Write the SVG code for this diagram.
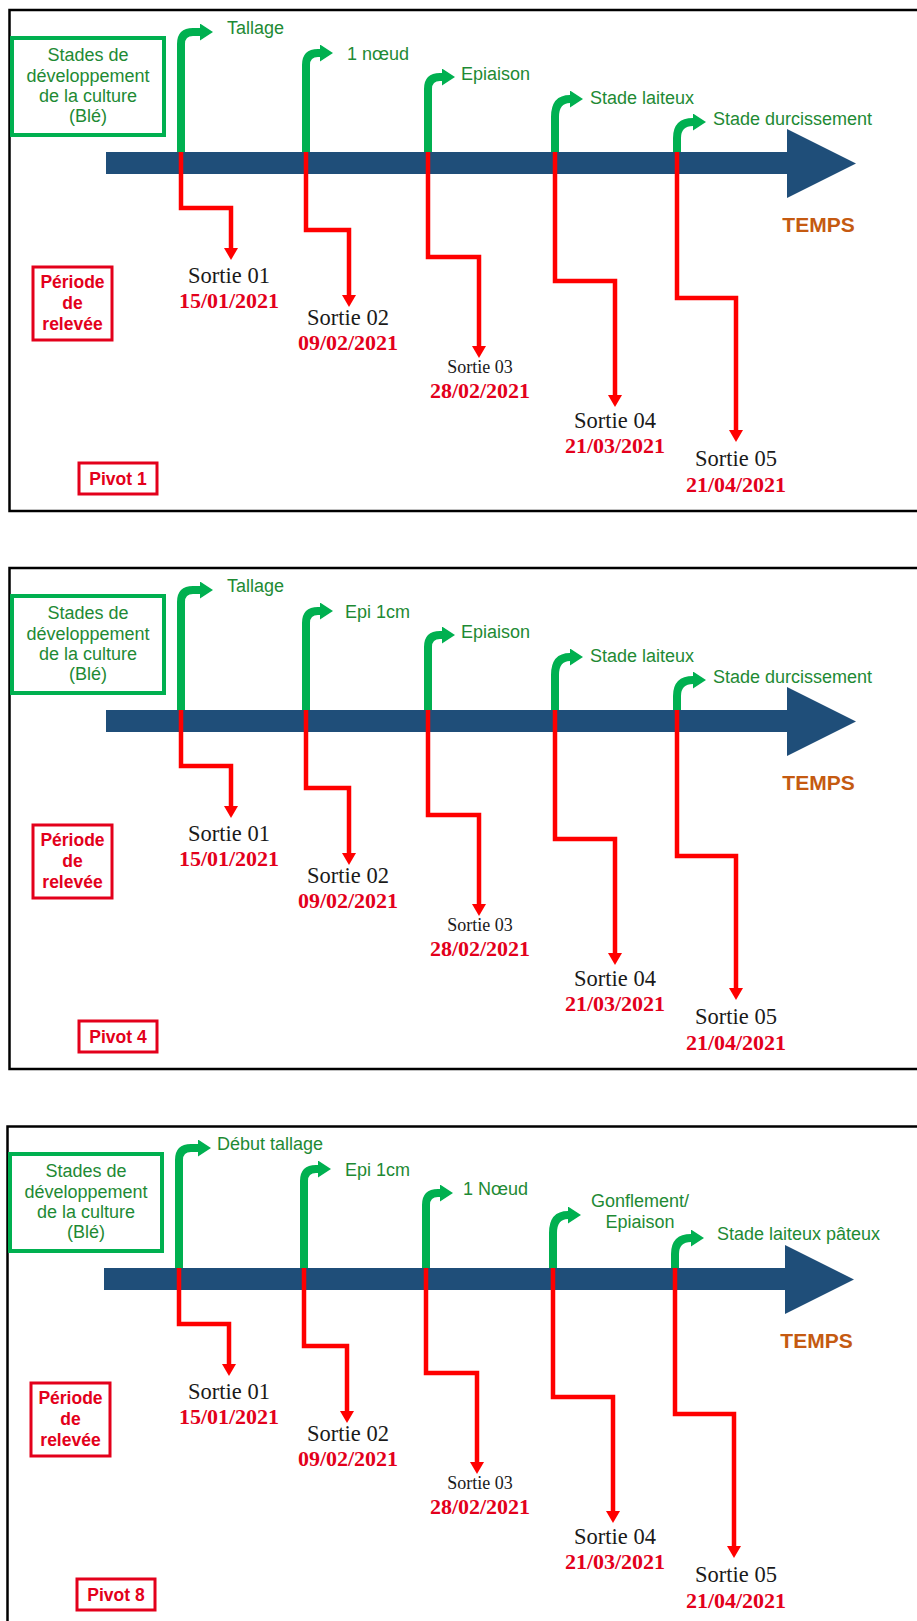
<svg xmlns="http://www.w3.org/2000/svg" width="917" height="1621" viewBox="0 0 917 1621">
<style>
.bg{fill:#fff}
.frame{fill:none;stroke:#000;stroke-width:2.5}
.bar{fill:#1F4E79}
.gbox{fill:#fff;stroke:#00B050;stroke-width:4}
.rbox{fill:#fff;stroke:#E3001B;stroke-width:3}
.gline{fill:none;stroke:#00B050;stroke-width:8}
.rline{fill:none;stroke:#FF0000;stroke-width:4.5;stroke-linejoin:miter}
.gtxt{font-family:'Liberation Sans',Arial,sans-serif;font-size:18px;fill:#1E8A34}
.btxt{font-family:'Liberation Sans',Arial,sans-serif;font-size:18px;fill:#1E8A34;text-anchor:middle}
.rtxt{font-family:'Liberation Sans',Arial,sans-serif;font-size:17.5px;font-weight:bold;fill:#E3001B;text-anchor:middle}
.sortie{font-family:'Liberation Serif','Times New Roman',serif;font-size:22.5px;fill:#1a1a1a;text-anchor:middle}
.sortie.small{font-size:18px}
.date{font-family:'Liberation Serif','Times New Roman',serif;font-size:22px;font-weight:bold;fill:#E3001B;text-anchor:middle}
.temps{font-family:'Liberation Sans',Arial,sans-serif;font-size:21px;font-weight:bold;fill:#C55A11;text-anchor:middle}
</style>
<defs>
<marker id="rarrow" markerUnits="userSpaceOnUse" viewBox="0 0 12 14" refX="0" refY="7" markerWidth="12" markerHeight="14" orient="auto">
<path d="M0,0 L12,7 L0,14 Z" fill="#FF0000"/>
</marker>
<marker id="garrow" markerUnits="userSpaceOnUse" viewBox="0 0 13 17" refX="0" refY="8.5" markerWidth="13" markerHeight="17" orient="auto">
<path d="M0,0 L13,8.5 L0,17 Z" fill="#00B050"/>
</marker>
</defs>
<rect class="bg" x="0" y="0" width="917" height="1621"/>

<!-- ============ PANEL 1 ============ -->
<g id="panel1">
<rect id="p1-frame" class="frame" x="9.5" y="10" width="930" height="501"/>
<g id="p1-axis"><path class="bar" d="M106 152 H787 V129 L856 163.5 L787 198 V174 H106 Z"/><text class="temps" x="818.5" y="232">TEMPS</text></g>
<g id="p1-stages"><rect class="gbox" x="12" y="38" width="152" height="97"/>
<text class="btxt" x="88" y="61">Stades de</text><text class="btxt" x="88" y="82">développement</text><text class="btxt" x="88" y="102">de la culture</text><text class="btxt" x="88" y="122">(Blé)</text></g>
<g id="p1-periode"><rect class="rbox" x="33" y="267" width="79" height="73"/>
<text class="rtxt" x="72.5" y="288">Période</text><text class="rtxt" x="72.5" y="309">de</text><text class="rtxt" x="72.5" y="330">relevée</text></g>
<g id="p1-pivot"><rect class="rbox" x="79" y="463" width="78" height="31"/><text class="rtxt" x="118" y="485">Pivot 1</text></g>
<g id="p1-connectors">
<path class="gline" d="M181 152 V44 Q181 32 193 32 H200" marker-end="url(#garrow)"/>
<path class="gline" d="M306 152 V65 Q306 53 318 53 H320" marker-end="url(#garrow)"/>
<path class="gline" d="M428 152 V89 Q428 77 440 77 H442" marker-end="url(#garrow)"/>
<path class="gline" d="M555 152 V117 Q555 99 570 99" marker-end="url(#garrow)"/>
<path class="gline" d="M677 152 V138 Q677 122 693 122" marker-end="url(#garrow)"/>
<path class="rline" d="M181 152 V208 H231 V248" marker-end="url(#rarrow)"/>
<path class="rline" d="M306 152 V230 H349 V295" marker-end="url(#rarrow)"/>
<path class="rline" d="M428 152 V257 H479 V346" marker-end="url(#rarrow)"/>
<path class="rline" d="M555 152 V281 H615 V395" marker-end="url(#rarrow)"/>
<path class="rline" d="M677 152 V298 H736 V430" marker-end="url(#rarrow)"/>
</g>
<g id="p1-st1"><text class="gtxt" x="227" y="34">Tallage</text></g>
<g id="p1-st2"><text class="gtxt" x="347" y="60">1 nœud</text></g>
<g id="p1-st3"><text class="gtxt" x="461" y="80">Epiaison</text></g>
<g id="p1-st4"><text class="gtxt" x="590" y="104">Stade laiteux</text></g>
<g id="p1-st5"><text class="gtxt" x="713" y="125">Stade durcissement</text></g>
<g id="p1-s1"><text class="sortie" x="229" y="283">Sortie 01</text><text class="date" x="229" y="308">15/01/2021</text></g>
<g id="p1-s2"><text class="sortie" x="348" y="325">Sortie 02</text><text class="date" x="348" y="350">09/02/2021</text></g>
<g id="p1-s3"><text class="sortie small" x="480" y="373">Sortie 03</text><text class="date" x="480" y="398">28/02/2021</text></g>
<g id="p1-s4"><text class="sortie" x="615" y="428">Sortie 04</text><text class="date" x="615" y="453">21/03/2021</text></g>
<g id="p1-s5"><text class="sortie" x="736" y="466">Sortie 05</text><text class="date" x="736" y="492">21/04/2021</text></g>
</g>

<!-- ============ PANEL 2 ============ -->
<g id="panel2" transform="translate(0,558)">
<rect id="p2-frame" class="frame" x="9.5" y="10" width="930" height="501"/>
<g id="p2-axis"><path class="bar" d="M106 152 H787 V129 L856 163.5 L787 198 V174 H106 Z"/><text class="temps" x="818.5" y="232">TEMPS</text></g>
<g id="p2-stages"><rect class="gbox" x="12" y="38" width="152" height="97"/>
<text class="btxt" x="88" y="61">Stades de</text><text class="btxt" x="88" y="82">développement</text><text class="btxt" x="88" y="102">de la culture</text><text class="btxt" x="88" y="122">(Blé)</text></g>
<g id="p2-periode"><rect class="rbox" x="33" y="267" width="79" height="73"/>
<text class="rtxt" x="72.5" y="288">Période</text><text class="rtxt" x="72.5" y="309">de</text><text class="rtxt" x="72.5" y="330">relevée</text></g>
<g id="p2-pivot"><rect class="rbox" x="79" y="463" width="78" height="31"/><text class="rtxt" x="118" y="485">Pivot 4</text></g>
<g id="p2-connectors">
<path class="gline" d="M181 152 V44 Q181 32 193 32 H200" marker-end="url(#garrow)"/>
<path class="gline" d="M306 152 V65 Q306 53 318 53 H320" marker-end="url(#garrow)"/>
<path class="gline" d="M428 152 V89 Q428 77 440 77 H442" marker-end="url(#garrow)"/>
<path class="gline" d="M555 152 V117 Q555 99 570 99" marker-end="url(#garrow)"/>
<path class="gline" d="M677 152 V138 Q677 122 693 122" marker-end="url(#garrow)"/>
<path class="rline" d="M181 152 V208 H231 V248" marker-end="url(#rarrow)"/>
<path class="rline" d="M306 152 V230 H349 V295" marker-end="url(#rarrow)"/>
<path class="rline" d="M428 152 V257 H479 V346" marker-end="url(#rarrow)"/>
<path class="rline" d="M555 152 V281 H615 V395" marker-end="url(#rarrow)"/>
<path class="rline" d="M677 152 V298 H736 V430" marker-end="url(#rarrow)"/>
</g>
<g id="p2-st1"><text class="gtxt" x="227" y="34">Tallage</text></g>
<g id="p2-st2"><text class="gtxt" x="345" y="60">Epi 1cm</text></g>
<g id="p2-st3"><text class="gtxt" x="461" y="80">Epiaison</text></g>
<g id="p2-st4"><text class="gtxt" x="590" y="104">Stade laiteux</text></g>
<g id="p2-st5"><text class="gtxt" x="713" y="125">Stade durcissement</text></g>
<g id="p2-s1"><text class="sortie" x="229" y="283">Sortie 01</text><text class="date" x="229" y="308">15/01/2021</text></g>
<g id="p2-s2"><text class="sortie" x="348" y="325">Sortie 02</text><text class="date" x="348" y="350">09/02/2021</text></g>
<g id="p2-s3"><text class="sortie small" x="480" y="373">Sortie 03</text><text class="date" x="480" y="398">28/02/2021</text></g>
<g id="p2-s4"><text class="sortie" x="615" y="428">Sortie 04</text><text class="date" x="615" y="453">21/03/2021</text></g>
<g id="p2-s5"><text class="sortie" x="736" y="466">Sortie 05</text><text class="date" x="736" y="492">21/04/2021</text></g>
</g>

<!-- ============ PANEL 3 ============ -->
<g id="panel3" transform="translate(-2,1116)">
<rect id="p3-frame" class="frame" x="9.5" y="10.5" width="930" height="520"/>
<g id="p3-axis"><path class="bar" d="M106 152 H787 V129 L856 163.5 L787 198 V174 H106 Z"/><text class="temps" x="818.5" y="232">TEMPS</text></g>
<g id="p3-stages"><rect class="gbox" x="12" y="38" width="152" height="97"/>
<text class="btxt" x="88" y="61">Stades de</text><text class="btxt" x="88" y="82">développement</text><text class="btxt" x="88" y="102">de la culture</text><text class="btxt" x="88" y="122">(Blé)</text></g>
<g id="p3-periode"><rect class="rbox" x="33" y="267" width="79" height="73"/>
<text class="rtxt" x="72.5" y="288">Période</text><text class="rtxt" x="72.5" y="309">de</text><text class="rtxt" x="72.5" y="330">relevée</text></g>
<g id="p3-pivot"><rect class="rbox" x="79" y="463" width="78" height="31"/><text class="rtxt" x="118" y="485">Pivot 8</text></g>
<g id="p3-connectors">
<path class="gline" d="M181 152 V44 Q181 32 193 32 H200" marker-end="url(#garrow)"/>
<path class="gline" d="M306 152 V65 Q306 53 318 53 H320" marker-end="url(#garrow)"/>
<path class="gline" d="M428 152 V89 Q428 77 440 77 H442" marker-end="url(#garrow)"/>
<path class="gline" d="M555 152 V117 Q555 99 570 99" marker-end="url(#garrow)"/>
<path class="gline" d="M677 152 V138 Q677 122 693 122" marker-end="url(#garrow)"/>
<path class="rline" d="M181 152 V208 H231 V248" marker-end="url(#rarrow)"/>
<path class="rline" d="M306 152 V230 H349 V295" marker-end="url(#rarrow)"/>
<path class="rline" d="M428 152 V257 H479 V346" marker-end="url(#rarrow)"/>
<path class="rline" d="M555 152 V281 H615 V395" marker-end="url(#rarrow)"/>
<path class="rline" d="M677 152 V298 H736 V430" marker-end="url(#rarrow)"/>
</g>
<g id="p3-st1"><text class="gtxt" x="219" y="34">Début tallage</text></g>
<g id="p3-st2"><text class="gtxt" x="347" y="60">Epi 1cm</text></g>
<g id="p3-st3"><text class="gtxt" x="465" y="79">1 Nœud</text></g>
<g id="p3-st4"><text class="btxt" x="642" y="91">Gonflement/</text><text class="btxt" x="642" y="112">Epiaison</text></g>
<g id="p3-st5"><text class="gtxt" x="719" y="124">Stade laiteux pâteux</text></g>
<g id="p3-s1"><text class="sortie" x="231" y="283">Sortie 01</text><text class="date" x="231" y="308">15/01/2021</text></g>
<g id="p3-s2"><text class="sortie" x="350" y="325">Sortie 02</text><text class="date" x="350" y="350">09/02/2021</text></g>
<g id="p3-s3"><text class="sortie small" x="482" y="373">Sortie 03</text><text class="date" x="482" y="398">28/02/2021</text></g>
<g id="p3-s4"><text class="sortie" x="617" y="428">Sortie 04</text><text class="date" x="617" y="453">21/03/2021</text></g>
<g id="p3-s5"><text class="sortie" x="738" y="466">Sortie 05</text><text class="date" x="738" y="492">21/04/2021</text></g>
</g>
</svg>
